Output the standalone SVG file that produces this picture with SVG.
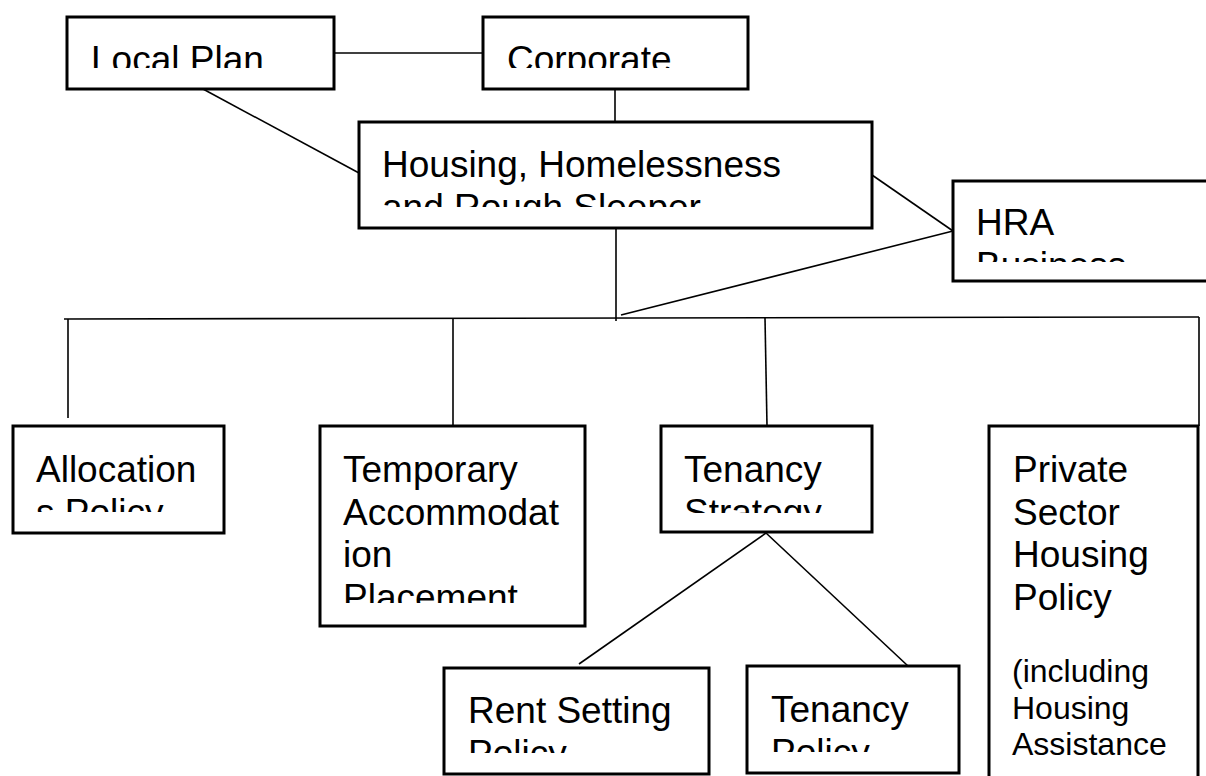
<svg xmlns="http://www.w3.org/2000/svg" width="1206" height="776" viewBox="0 0 1206 776">
<style>
.box{fill:#fff;stroke:#000;stroke-width:3}
.t{font-family:"Liberation Sans",Arial,sans-serif;font-size:37px;fill:#000}
.s{font-size:32px}
.c{stroke:#000;stroke-width:1.6;fill:none}
</style>
<defs>
<clipPath id="cLocal"><rect x="67" y="17" width="267" height="51"/></clipPath>
<clipPath id="cCorp"><rect x="483" y="17" width="265" height="51"/></clipPath>
<clipPath id="cHousing"><rect x="359" y="122" width="513" height="85"/></clipPath>
<clipPath id="cHRA"><rect x="953" y="181" width="260" height="81"/></clipPath>
<clipPath id="cAlloc"><rect x="13" y="426" width="211" height="86"/></clipPath>
<clipPath id="cTemp"><rect x="320" y="426" width="265" height="177"/></clipPath>
<clipPath id="cTenStr"><rect x="661" y="426" width="211" height="87"/></clipPath>
<clipPath id="cRent"><rect x="444" y="668" width="265" height="85"/></clipPath>
<clipPath id="cTenPol"><rect x="747" y="666" width="212" height="86"/></clipPath>
</defs>
<rect width="1206" height="776" fill="#fff"/>
<g id="connectors">
<line class="c" x1="334" y1="53" x2="483" y2="53"/>
<line class="c" x1="615" y1="89" x2="615" y2="122"/>
<line class="c" x1="203" y1="89" x2="359" y2="173"/>
<line class="c" x1="872" y1="175" x2="953" y2="231"/>
<line class="c" x1="953" y1="231" x2="621" y2="315"/>
<line class="c" x1="616" y1="229" x2="616" y2="321"/>
<line class="c" x1="64" y1="319" x2="1199" y2="317"/>
<line class="c" x1="68" y1="319" x2="68" y2="418"/>
<line class="c" x1="453" y1="319" x2="453" y2="426"/>
<line class="c" x1="765" y1="318" x2="767" y2="426"/>
<line class="c" x1="1199" y1="317" x2="1199" y2="426"/>
<line class="c" x1="766" y1="533" x2="579" y2="664"/>
<line class="c" x1="766" y1="533" x2="908" y2="666"/>
</g>
<g id="local-plan">
<rect class="box" x="67" y="17" width="267" height="72"/>
<text class="t" x="91" y="72" clip-path="url(#cLocal)">Local Plan</text>
</g>
<g id="corporate">
<rect class="box" x="483" y="17" width="265" height="72"/>
<text class="t" x="507" y="72" clip-path="url(#cCorp)">Corporate</text>
</g>
<g id="housing">
<rect class="box" x="359" y="122" width="513" height="106"/>
<text class="t" clip-path="url(#cHousing)"><tspan x="382" y="177">Housing, Homelessness</tspan><tspan x="382" y="219.5">and Rough Sleeper</tspan></text>
</g>
<g id="hra">
<rect class="box" x="953" y="181" width="270" height="100"/>
<text class="t" clip-path="url(#cHRA)"><tspan x="976" y="235">HRA</tspan><tspan x="976" y="277.5">Business</tspan></text>
</g>
<g id="allocations">
<rect class="box" x="13" y="426" width="211" height="107"/>
<text class="t" clip-path="url(#cAlloc)"><tspan x="36" y="482">Allocation</tspan><tspan x="36" y="524.5">s Policy</tspan></text>
</g>
<g id="temporary">
<rect class="box" x="320" y="426" width="265" height="200"/>
<text class="t" clip-path="url(#cTemp)"><tspan x="343" y="482">Temporary</tspan><tspan x="343" y="524.5">Accommodat</tspan><tspan x="343" y="567">ion</tspan><tspan x="343" y="609.5">Placement</tspan></text>
</g>
<g id="tenancy-strategy">
<rect class="box" x="661" y="426" width="211" height="106"/>
<text class="t" clip-path="url(#cTenStr)"><tspan x="684" y="482">Tenancy</tspan><tspan x="684" y="524.5">Strategy</tspan></text>
</g>
<g id="private-sector">
<rect class="box" x="989" y="426" width="209" height="370"/>
<text class="t"><tspan x="1013" y="482">Private</tspan><tspan x="1013" y="524.5">Sector</tspan><tspan x="1013" y="567">Housing</tspan><tspan x="1013" y="609.5">Policy</tspan></text>
<text class="t s"><tspan x="1012" y="682">(including</tspan><tspan x="1012" y="718.5">Housing</tspan><tspan x="1012" y="755">Assistance</tspan></text>
</g>
<g id="rent-setting">
<rect class="box" x="444" y="668" width="265" height="106"/>
<text class="t" clip-path="url(#cRent)"><tspan x="468" y="723">Rent Setting</tspan><tspan x="468" y="765.5">Policy</tspan></text>
</g>
<g id="tenancy-policy">
<rect class="box" x="747" y="666" width="212" height="107"/>
<text class="t" clip-path="url(#cTenPol)"><tspan x="771" y="722">Tenancy</tspan><tspan x="771" y="764.5">Policy</tspan></text>
</g>
</svg>
